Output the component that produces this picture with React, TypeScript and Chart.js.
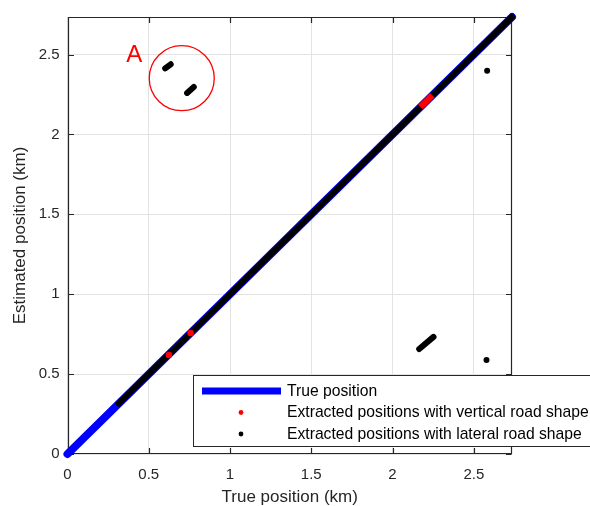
import { useEffect, useRef } from 'react';
import { Chart, registerables } from 'chart.js';

Chart.register(...registerables);

const FONT = '"Liberation Sans", Arial, Helvetica, sans-serif';
const INK = '#262626';

// Axis range and ticks (km)
const AXIS_MAX = 2.735;
const tickValues = [0, 0.5, 1, 1.5, 2, 2.5];
const tickLabels = ['0', '0.5', '1', '1.5', '2', '2.5'];

// True position: the identity line
const trueX = [0, 2.735];
const trueY = [0, 2.735];

// Lateral road shape: runs of consecutive extracted positions (start -> end)
const lateralRunStartX = [0.315, 0.601, 0.736, 2.164];
const lateralRunStartY = [0.315, 2.413, 2.26, 0.657];
const lateralRunEndX = [2.735, 0.635, 0.777, 2.252];
const lateralRunEndY = [2.735, 2.439, 2.297, 0.733];
// Lateral road shape: isolated extracted positions
const lateralDotX = [2.578, 2.582];
const lateralDotY = [0.589, 2.399];

// Vertical road shape: one run and isolated positions on the diagonal
const verticalRunStartX = [2.172];
const verticalRunStartY = [2.172];
const verticalRunEndX = [2.245];
const verticalRunEndY = [2.245];
const verticalDotX = [0.624, 0.757];
const verticalDotY = [0.62, 0.757];

// Highlighted region "A"
const markCenter = { x: 0.703, y: 2.352 };
const markRadius = 0.2;
const markLabel = { x: 0.411, y: 2.498, text: 'A' };

const legendLabels = [
  'True position',
  'Extracted positions with vertical road shape',
  'Extracted positions with lateral road shape',
];

const BLUE = '#0000ff';
const RED = '#ff0000';
const BLACK = '#000000';

// Draw order: larger "order" is painted first (underneath)
const ORDER_TRUE = 3;
const ORDER_LATERAL = 2;
const ORDER_VERTICAL = 1;

const pts = (xs: number[], ys: number[]) => xs.map((x, i) => ({ x, y: ys[i] }));

function runDatasets(
  sx: number[],
  sy: number[],
  ex: number[],
  ey: number[],
  color: string,
  width: number,
  cap: CanvasLineCap,
  order: number
) {
  return sx.map((_, i) => ({
    data: [
      { x: sx[i], y: sy[i] },
      { x: ex[i], y: ey[i] },
    ],
    showLine: true,
    borderColor: color,
    backgroundColor: color,
    borderWidth: width,
    borderCapStyle: cap,
    pointRadius: 0,
    pointHoverRadius: 0,
    clip: false as const,
    order,
  }));
}

const framePlugin = {
  id: 'frame',
  beforeDatasetsDraw(chart: any) {
    const { ctx, chartArea: a, scales } = chart;
    const L = Math.round(a.left) + 0.5;
    const R = Math.round(a.right) - 0.5;
    const T = Math.round(a.top) + 0.5;
    const B = Math.round(a.bottom) - 0.5;
    const tl = 5.5;
    ctx.save();
    ctx.strokeStyle = INK;
    ctx.lineWidth = 1.2;
    ctx.beginPath();
    ctx.rect(L, T, R - L, B - T);
    tickValues.forEach((v) => {
      const px = Math.round(scales.x.getPixelForValue(v)) + 0.5;
      ctx.moveTo(px, B);
      ctx.lineTo(px, B - tl);
      ctx.moveTo(px, T);
      ctx.lineTo(px, T + tl);
      const py = Math.round(scales.y.getPixelForValue(v)) + 0.5;
      ctx.moveTo(L, py);
      ctx.lineTo(L + tl, py);
      ctx.moveTo(R, py);
      ctx.lineTo(R - tl, py);
    });
    ctx.stroke();
    ctx.restore();
  },
};

const markPlugin = {
  id: 'mark',
  afterDatasetsDraw(chart: any) {
    const { ctx, scales } = chart;
    const cx = scales.x.getPixelForValue(markCenter.x);
    const cy = scales.y.getPixelForValue(markCenter.y);
    const r = scales.x.getPixelForValue(markRadius) - scales.x.getPixelForValue(0);
    ctx.save();
    ctx.strokeStyle = RED;
    ctx.lineWidth = 1.3;
    ctx.beginPath();
    ctx.arc(cx, cy, r, 0, Math.PI * 2);
    ctx.stroke();
    ctx.fillStyle = RED;
    ctx.font = `24px ${FONT}`;
    ctx.textAlign = 'center';
    ctx.textBaseline = 'middle';
    ctx.fillText(markLabel.text, scales.x.getPixelForValue(markLabel.x), scales.y.getPixelForValue(markLabel.y) + 1);
    ctx.restore();
  },
};

const legendPlugin = {
  id: 'boxLegend',
  afterDraw(chart: any) {
    const { ctx } = chart;
    const left = 193.5;
    const top = 375.5;
    const bottom = 446.5;
    const rows = [391, 412.5, 434];
    ctx.save();
    ctx.fillStyle = '#ffffff';
    ctx.fillRect(left, top, 600 - left, bottom - top);
    ctx.strokeStyle = INK;
    ctx.lineWidth = 1;
    ctx.strokeRect(left, top, 600 - left, bottom - top);

    ctx.strokeStyle = BLUE;
    ctx.lineWidth = 7;
    ctx.beginPath();
    ctx.moveTo(202, rows[0]);
    ctx.lineTo(281, rows[0]);
    ctx.stroke();

    ctx.fillStyle = RED;
    ctx.beginPath();
    ctx.arc(241, rows[1], 2.4, 0, Math.PI * 2);
    ctx.fill();
    ctx.fillStyle = BLACK;
    ctx.beginPath();
    ctx.arc(241, rows[2], 2.4, 0, Math.PI * 2);
    ctx.fill();

    ctx.fillStyle = '#000000';
    ctx.font = `15.7px ${FONT}`;
    ctx.textAlign = 'left';
    ctx.textBaseline = 'middle';
    legendLabels.forEach((t, i) => ctx.fillText(t, 287, rows[i] + 0.5));
    ctx.restore();
  },
};

export default function App() {
  const ref = useRef<HTMLCanvasElement | null>(null);

  useEffect(() => {
    if (!ref.current) return;
    const datasets: any[] = [
      {
        data: pts(trueX, trueY),
        showLine: true,
        borderColor: BLUE,
        backgroundColor: BLUE,
        borderWidth: 8,
        borderCapStyle: 'round',
        pointRadius: 0,
        pointHoverRadius: 0,
        clip: false,
        order: ORDER_TRUE,
      },
      ...runDatasets(lateralRunStartX, lateralRunStartY, lateralRunEndX, lateralRunEndY, BLACK, 6, 'round', ORDER_LATERAL),
      {
        data: pts(lateralDotX, lateralDotY),
        showLine: false,
        backgroundColor: BLACK,
        borderWidth: 0,
        pointRadius: 3,
        pointHoverRadius: 3,
        clip: false,
        order: ORDER_LATERAL,
      },
      ...runDatasets(verticalRunStartX, verticalRunStartY, verticalRunEndX, verticalRunEndY, RED, 6.5, 'butt', ORDER_VERTICAL),
      {
        data: pts(verticalDotX, verticalDotY),
        showLine: false,
        backgroundColor: RED,
        borderWidth: 0,
        pointRadius: 3.3,
        pointHoverRadius: 3.3,
        clip: false,
        order: ORDER_VERTICAL,
      },
    ];

    const chart = new Chart(ref.current, {
      type: 'scatter',
      data: { datasets },
      options: {
        responsive: false,
        animation: false,
        devicePixelRatio: 1,
        layout: { padding: { left: 0, right: 78, top: 13, bottom: 0 } },
        plugins: { legend: { display: false }, tooltip: { enabled: false } },
        scales: {
          x: {
            type: 'linear',
            min: 0,
            max: AXIS_MAX,
            afterBuildTicks: (s: any) => {
              s.ticks = tickValues.map((v) => ({ value: v }));
            },
            afterFit: (s: any) => {
              s.height = 52;
            },
            grid: { color: '#e3e3e3', lineWidth: 1, drawTicks: false },
            border: { display: false },
            ticks: {
              autoSkip: false,
              maxRotation: 0,
              padding: 12,
              color: INK,
              font: { family: FONT, size: 15 },
              callback: (v: any) => tickLabels[tickValues.indexOf(Number(v))] ?? '',
            },
            title: {
              display: true,
              text: 'True position (km)',
              color: INK,
              font: { family: FONT, size: 17 },
              padding: { top: 0, bottom: -2 },
            },
          },
          y: {
            type: 'linear',
            min: 0,
            max: AXIS_MAX,
            afterBuildTicks: (s: any) => {
              s.ticks = tickValues.map((v) => ({ value: v }));
            },
            afterFit: (s: any) => {
              s.width = 67.5;
            },
            grid: { color: '#e3e3e3', lineWidth: 1, drawTicks: false },
            border: { display: false },
            ticks: {
              autoSkip: false,
              padding: 8,
              color: INK,
              font: { family: FONT, size: 15 },
              callback: (v: any) => tickLabels[tickValues.indexOf(Number(v))] ?? '',
            },
            title: {
              display: true,
              text: 'Estimated position (km)',
              color: INK,
              font: { family: FONT, size: 17 },
              padding: { top: 10, bottom: 0 },
            },
          },
        },
      },
      plugins: [framePlugin, markPlugin, legendPlugin],
    });
    return () => chart.destroy();
  }, []);

  return (
    <div style={{ position: 'fixed', left: 0, top: 0, width: 590, height: 506, background: '#ffffff' }}>
      <canvas ref={ref} width={590} height={506} style={{ display: 'block' }} />
    </div>
  );
}
